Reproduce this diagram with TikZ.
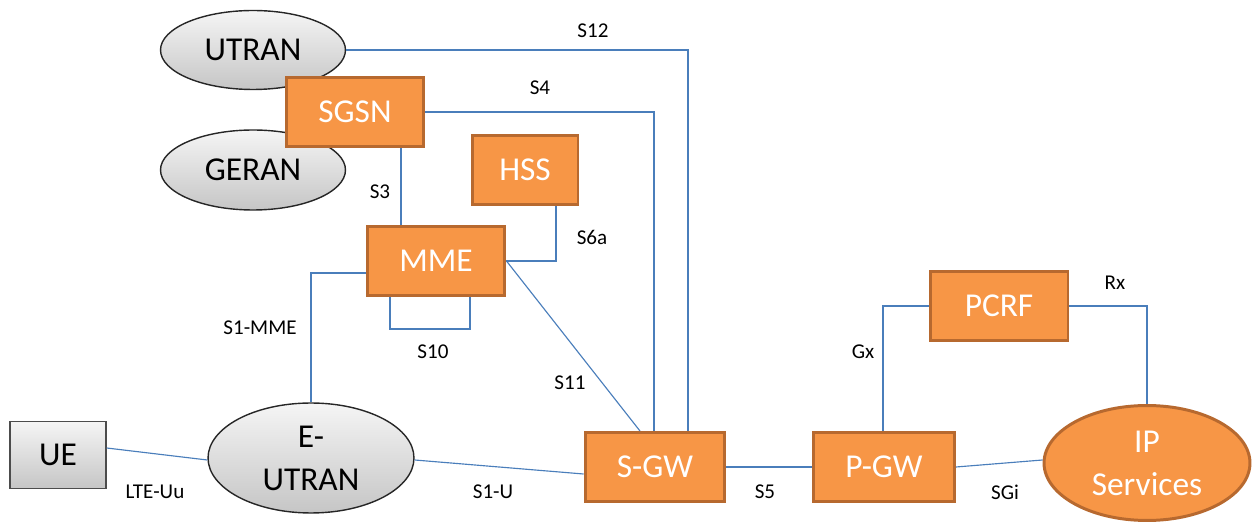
\documentclass[tikz,border=0pt]{standalone}
\usepackage{fontspec}
\setmainfont{Carlito}
\usepackage{tikz}
\usetikzlibrary{calc,positioning,shapes.geometric}
\definecolor{eorange}{HTML}{F79646}
\definecolor{eedge}{HTML}{B7692F}
\definecolor{elink}{HTML}{4A7EBB}
\tikzset{
  enode/.style={rectangle, draw=eedge, fill=eorange, line width=1.7pt,
                text=white, font=\fontsize{19}{22}\selectfont,
                minimum height=1.38cm, inner sep=0pt},
  eran/.style={ellipse, draw=black!85, line width=0.8pt, top color=gray!8,
               bottom color=gray!45, font=\fontsize{19}{24.5}\selectfont,
               align=center, inner sep=0pt},
  eue/.style={rectangle, draw=black!70, line width=0.8pt, top color=gray!8,
              bottom color=gray!45, font=\fontsize{19}{22}\selectfont,
              minimum width=1.92cm, minimum height=1.34cm, inner sep=0pt},
  eip/.style={ellipse, draw=eedge, fill=eorange, line width=1.7pt,
              text=white, font=\fontsize{19}{24.5}\selectfont, align=center,
              minimum width=4.12cm, minimum height=2.3cm, inner sep=0pt},
  elnk/.style={draw=elink, line width=0.65pt},
  elbl/.style={font=\fontsize{12}{14}\selectfont, inner sep=1pt},
}
\begin{document}
\begin{tikzpicture}[x=0.02cm,y=-0.02cm]
  \useasboundingbox (0,0) rectangle (1252,523);

  % redes de acesso
  \node[eran, minimum width=3.7cm, minimum height=1.58cm] (utran) at (253,50) {UTRAN};
  \node[eran, minimum width=3.7cm, minimum height=1.6cm]  (geran) at (253,170) {GERAN};
  \node[eran, minimum width=4.12cm, minimum height=2.2cm] (eutran) at (311,458) {E-\\UTRAN};
  \node[eue] (ue) at (58,455) {UE};

  % elementos do núcleo
  \node[enode, minimum width=2.74cm] (sgsn) at (355,112) {SGSN};
  \node[enode, minimum width=2.12cm] (hss)  at (525,170) {HSS};
  \node[enode, minimum width=2.76cm] (mme)  at (436,261) {MME};
  \node[enode, minimum width=2.8cm]  (sgw)  at (655,467) {S-GW};
  \node[enode, minimum width=2.82cm] (pgw)  at (884,467) {P-GW};
  \node[enode, minimum width=2.76cm] (pcrf) at (999,306) {PCRF};
  \node[eip] (ip) at (1147,463) {IP\\Services};

  % interfaces
  \draw[elnk] (utran.east) -| ($(sgw.north)+(33,0)$);
  \draw[elnk] (sgsn.east) -| ($(sgw.north)+(-1,0)$);
  \draw[elnk] ($(sgsn.south)+(46,0)$) coordinate (s3a) -- (s3a |- mme.north);
  \draw[elnk] ($(hss.south)+(31,0)$) |- (mme.east);
  \draw[elnk] (mme.east) -- ($(sgw.north)+(-15,0)$);
  \draw[elnk] ($(mme.south)+(-46,0)$) -- ++(0,32) -- ++(80,0) -- ++(0,-32);
  \draw[elnk] ($(mme.west)+(0,12)$) -| (eutran.north);
  \draw[elnk] ($(ue.east)+(0,-7)$) -- ($(eutran.west)+(0,2)$);
  \draw[elnk] ($(eutran.east)+(0,2)$) -- ($(sgw.west)+(0,7)$);
  \draw[elnk] (sgw.east) -- (pgw.west);
  \draw[elnk] (pgw.east) -- ($(ip.west)+(0,-3)$);
  \draw[elnk] ($(pgw.north)+(-1,0)$) |- (pcrf.west);
  \draw[elnk] (pcrf.east) -| (ip.north);

  % rótulos
  \node[elbl] (lS12) at (593,31)  {S12};
  \node[elbl] (lS4)  at (540,88)  {S4};
  \node[elbl] (lS3)  at (380,192) {S3};
  \node[elbl] (lS6a) at (592,237) {S6a};
  \node[elbl] (lS10) at (433,352) {S10};
  \node[elbl] (lS1m) at (260,328) {S1-MME};
  \node[elbl] (lS11) at (570,383) {S11};
  \node[elbl] (lUu)  at (155,492) {LTE-Uu};
  \node[elbl] (lS1u) at (493,492) {S1-U};
  \node[elbl] (lS5)  at (765,492) {S5};
  \node[elbl] (lSGi) at (1005,492) {SGi};
  \node[elbl] (lGx)  at (863,352) {Gx};
  \node[elbl] (lRx)  at (1115,283) {Rx};

\end{tikzpicture}
\end{document}
